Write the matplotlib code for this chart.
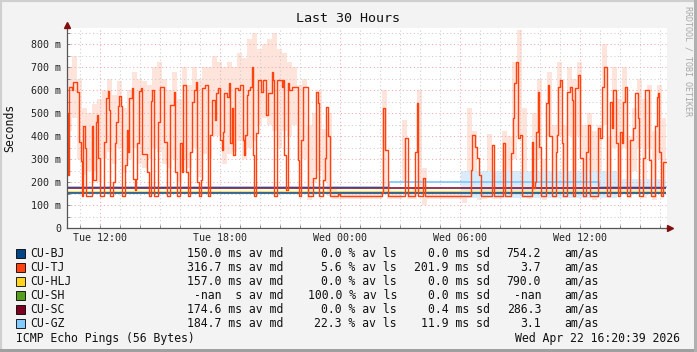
import matplotlib

matplotlib.use("Agg")
import matplotlib.pyplot as plt
import numpy as np
from matplotlib.patches import Rectangle
from matplotlib.transforms import offset_copy

# time axis: hours since graph start (Tue 10:21), 30 h wide
tick_hours = [1.65, 7.65, 13.65, 19.65, 25.65]
tick_labels = ["Tue 12:00", "Tue 18:00", "Wed 00:00", "Wed 06:00", "Wed 12:00"]
y_ticks = [0, 100, 200, 300, 400, 500, 600, 700, 800]
y_labels = ["0", "100 m", "200 m", "300 m", "400 m", "500 m", "600 m", "700 m", "800 m"]

# CU-TJ median (ms), step changes
tj_hours = [
    0.00, 0.03, 0.10, 0.23, 0.30, 0.48, 0.60, 0.68, 0.75, 0.82, 0.88, 0.95,
    1.23, 1.32, 1.43, 1.50, 1.55, 1.65, 1.87, 1.93, 2.05, 2.10, 2.15, 2.30,
    2.38, 2.45, 2.55, 2.60, 2.70, 2.75, 2.90, 2.98, 3.05, 3.12, 3.23, 3.32,
    3.38, 3.45, 3.50, 3.60, 3.70, 3.75, 4.00, 4.08, 4.20, 4.27, 4.35, 4.55,
    4.65, 4.85, 4.98, 5.15, 5.35, 5.42, 5.50, 5.65, 5.73, 5.80, 5.95, 6.05,
    6.15, 6.25, 6.35, 6.45, 6.52, 6.58, 6.70, 6.75, 6.90, 7.05, 7.15, 7.25,
    7.40, 7.45, 7.57, 7.65, 7.73, 7.82, 7.87, 7.98, 8.10, 8.15, 8.23, 8.28,
    8.40, 8.55, 8.65, 8.80, 8.87, 8.90, 8.98, 9.07, 9.15, 9.23, 9.32, 9.37,
    9.43, 9.53, 9.70, 9.82, 9.93, 10.07, 10.23, 10.32, 10.37, 10.48, 10.75, 10.82,
    10.87, 10.93, 11.03, 11.10, 11.25, 11.53, 11.62, 11.70, 11.82, 12.03, 12.32, 12.45,
    12.53, 12.62, 12.82, 12.90, 12.97, 13.05, 13.15, 13.55, 13.65, 15.77, 15.80, 15.90,
    16.03, 16.90, 17.03, 17.40, 17.48, 17.53, 17.82, 17.90, 20.20, 20.27, 20.40, 20.50,
    20.60, 20.68, 21.25, 21.35, 21.82, 21.88, 22.18, 22.30, 22.35, 22.45, 22.55, 22.65,
    22.73, 23.23, 23.32, 23.40, 23.45, 23.53, 23.62, 23.70, 23.93, 24.07, 24.12, 24.23,
    24.43, 24.48, 24.53, 24.65, 24.73, 24.82, 24.98, 25.15, 25.23, 25.32, 25.40, 25.57,
    25.65, 25.82, 25.97, 26.05, 26.13, 26.57, 26.65, 26.75, 26.85, 26.98, 27.15, 27.23,
    27.32, 27.45, 27.53, 27.65, 27.73, 27.82, 27.90, 27.98, 28.15, 28.32, 28.40, 28.53,
    28.62, 28.82, 28.90, 29.12, 29.20, 29.40, 29.48, 29.57, 29.62, 29.68, 29.82, 29.93,
]
tj_ms = [
    500, 230, 614, 600, 636, 590, 375, 290, 141, 445, 350, 141,
    445, 210, 460, 490, 305, 141, 375, 565, 595, 515, 141, 200,
    370, 460, 530, 575, 530, 141, 275, 425, 330, 565, 610, 215,
    165, 215, 370, 595, 610, 320, 245, 141, 551, 600, 141, 460,
    614, 375, 141, 535, 593, 245, 141, 368, 245, 622, 245, 141,
    332, 549, 600, 636, 202, 141, 209, 607, 622, 141, 404, 556,
    470, 586, 607, 383, 339, 419, 586, 571, 629, 368, 520, 317,
    607, 600, 622, 383, 317, 404, 578, 600, 614, 701, 317, 141,
    412, 643, 593, 643, 491, 586, 680, 643, 141, 643, 614, 643,
    317, 165, 629, 600, 614, 296, 141, 383, 614, 141, 216, 593,
    542, 141, 209, 303, 527, 400, 141, 146, 141, 158, 520, 339,
    141, 390, 141, 332, 542, 141, 216, 141, 252, 404, 353, 303,
    231, 141, 361, 141, 368, 141, 325, 477, 629, 723, 390, 404,
    141, 375, 173, 202, 419, 593, 353, 141, 542, 622, 400, 141,
    332, 404, 614, 643, 368, 141, 593, 614, 556, 141, 607, 665,
    303, 141, 332, 448, 141, 434, 390, 614, 701, 141, 549, 434,
    600, 368, 141, 419, 368, 549, 614, 141, 383, 434, 586, 477,
    141, 303, 600, 296, 141, 445, 571, 586, 330, 141, 288, 288,
]

# CU-TJ smoke envelope per quarter hour (ms)
tj_smoke_hi = [
    700, 750, 650, 520, 500, 540, 560, 600,
    650, 580, 640, 520, 600, 680, 650, 640,
    620, 700, 720, 650, 600, 680, 560, 700,
    620, 700, 650, 700, 700, 750, 720, 700,
    720, 700, 760, 740, 820, 850, 780, 800,
    820, 850, 780, 760, 720, 700, 620, 650,
    450, 500, 600, 430, 500, 170, 160, 160,
    160, 160, 160, 160, 160, 160, 160, 600,
    160, 160, 160, 470, 160, 180, 600, 260,
    160, 160, 160, 160, 160, 160, 160, 200,
    520, 420, 200, 250, 410, 160, 160, 420,
    400, 720, 860, 520, 200, 500, 650, 300,
    680, 450, 720, 450, 700, 650, 720, 450,
    500, 420, 450, 800, 400, 700, 560, 700,
    400, 520, 650, 560, 620, 420, 620, 480,
]
tj_smoke_lo = [
    420, 480, 300, 230, 250, 250, 200, 300,
    330, 280, 350, 240, 300, 350, 280, 260,
    300, 350, 330, 280, 260, 300, 200, 300,
    260, 350, 220, 320, 300, 400, 400, 280,
    320, 330, 380, 300, 350, 380, 450, 480,
    450, 420, 350, 420, 400, 450, 300, 300,
    120, 200, 250, 200, 140, 125, 125, 125,
    125, 125, 125, 125, 125, 125, 125, 150,
    125, 125, 125, 200, 125, 125, 150, 100,
    125, 125, 125, 125, 125, 125, 125, 110,
    150, 200, 120, 125, 150, 125, 125, 150,
    150, 300, 400, 150, 125, 200, 300, 120,
    400, 150, 400, 130, 400, 150, 400, 130,
    250, 120, 200, 450, 130, 350, 200, 350,
    130, 250, 350, 130, 350, 120, 300, 200,
]

# CU-GZ median and smoke
gz_hours = [0.0, 16.1, 26.6, 29.93]
gz_ms = [177, 199, 177, 177]
gz_smoke_hours = [0.0, 13.9, 19.7, 27.5, 29.93]
gz_smoke_lo = [135, np.nan, 130, 150, 150]
gz_smoke_hi = [215, np.nan, 250, 215, 215]

# flat targets
bj_ms = 151
hlj_ms = 156
sc_ms = 174

names = ["CU-BJ", "CU-TJ", "CU-HLJ", "CU-SH", "CU-SC", "CU-GZ"]
colors = ["#004586", "#ff420e", "#ffd320", "#579d1c", "#7e0021", "#83caff"]
med_vals = ["150.0", "316.7", "157.0", "-nan", "174.6", "184.7"]
med_units = ["ms", "ms", "ms", "s", "ms", "ms"]
loss_vals = ["0.0", "5.6", "0.0", "100.0", "0.0", "22.3"]
sd_vals = ["0.0", "201.9", "0.0", "0.0", "0.4", "11.9"]
amas_vals = ["754.2", "3.7", "790.0", "-nan", "286.3", "3.1"]

W, H = 697, 352
MONO = "DejaVu Sans Mono"
plt.rcParams["font.family"] = MONO


def fx(x):
    return x / W


def fy(y):
    return 1 - y / H


fig = plt.figure(figsize=(W / 100, H / 100), dpi=100)
fig.patch.set_facecolor("#f3f3f3")

# 3d-ish frame
fig.add_artist(Rectangle((0, 0), 1, 1, transform=fig.transFigure, fill=False,
                         edgecolor="#cfcfcf", lw=3))
fig.add_artist(Rectangle((0, 0), 1, fy(349), transform=fig.transFigure,
                         facecolor="#a0a0a0", edgecolor="none"))
fig.add_artist(Rectangle((fx(694), 0), fx(3), 1, transform=fig.transFigure,
                         facecolor="#b0b0b0", edgecolor="none"))

ax = fig.add_axes([fx(67), fy(228), 600 / W, (228 - 27.5) / H])
ax.set_facecolor("white")
ax.set_xlim(0, 30)
ax.set_ylim(0, 872)

smoke_hours = np.arange(len(tj_smoke_hi)) * 0.25
sh = np.append(smoke_hours, 29.93)
ax.fill_between(sh, np.append(tj_smoke_lo, tj_smoke_lo[-1]), np.append(tj_smoke_hi, tj_smoke_hi[-1]),
                step="post", color="#ffe4dc", lw=0, zorder=1)
ax.fill_between(gz_smoke_hours, gz_smoke_lo, gz_smoke_hi, step="post",
                color="#d9ecfb", lw=0, zorder=1.2)

ax.step(gz_hours, gz_ms, where="post", color=colors[5], lw=1.3, zorder=3)
ax.hlines(sc_ms, 0, 29.93, color=colors[4], lw=1.1, zorder=3)
ax.hlines(hlj_ms, 0, 29.93, color=colors[2], lw=1.1, zorder=3)
ax.hlines(bj_ms, 0, 29.93, color=colors[0], lw=1.1, zorder=3)
ax.step(tj_hours, tj_ms, where="post", color=colors[1], lw=1.0, zorder=4)

# grid
ax.set_xticks(tick_hours)
ax.set_xticklabels(tick_labels)
ax.set_xticks(np.arange(0.65, 30, 1.0), minor=True)
ax.set_yticks(y_ticks)
ax.set_yticklabels(y_labels)
ax.set_yticks(np.arange(50, 872, 100), minor=True)
ax.set_axisbelow(False)
ax.grid(which="minor", color="#cccccc", lw=0.75, linestyle=(0, (1, 2.5)), zorder=2)
ax.grid(which="major", color="#eeaaaa", lw=0.75, linestyle=(0, (1, 2.5)), zorder=2)
ax.tick_params(which="both", length=2, width=0.7, color="#888888", direction="in")
ax.tick_params(axis="y", labelsize=7.2, pad=4, labelcolor="#222222")
ax.tick_params(axis="x", labelsize=7.2, pad=3.5, labelcolor="#222222")
for lab in ax.get_xticklabels() + ax.get_yticklabels():
    lab.set_family(MONO)

for side in ["top", "right"]:
    ax.spines[side].set_visible(False)
for side in ["left", "bottom"]:
    ax.spines[side].set_color("#555555")
    ax.spines[side].set_linewidth(0.9)
    ax.spines[side].set_zorder(5)

up = offset_copy(ax.transAxes, fig=fig, x=0, y=3, units="dots")
ax.plot([0], [1], marker="^", ms=5, color="#7f1010", transform=up, clip_on=False, zorder=6)
right = offset_copy(ax.transAxes, fig=fig, x=3, y=0, units="dots")
ax.plot([1], [0], marker=">", ms=5, color="#7f1010", transform=right, clip_on=False, zorder=6)

fig.text(fx(348), fy(19), "Last 30 Hours", ha="center", va="center", fontsize=9.6, color="#111111")
fig.text(fx(10), fy(128), "Seconds", ha="center", va="center", rotation=90, fontsize=8.3, color="#111111")
fig.text(fx(688), fy(61), "RRDTOOL / TOBI OETIKER", ha="center", va="center", rotation=270,
         fontsize=6, color="#a8a8a8")

# legend
for i, name in enumerate(names):
    y = 253.5 + 14 * i
    fig.add_artist(Rectangle((fx(16), fy(y + 4.5)), 9 / W, 9 / H, transform=fig.transFigure,
                             facecolor=colors[i], edgecolor="black", lw=0.6))
    kw = dict(va="center", fontsize=8.3, color="#111111")
    fig.text(fx(30), fy(y), name, ha="left", **kw)
    fig.text(fx(283), fy(y), f"{med_vals[i]} {med_units[i]:>2} av md", ha="right", **kw)
    fig.text(fx(397), fy(y), f"{loss_vals[i]} % av ls", ha="right", **kw)
    fig.text(fx(490), fy(y), f"{sd_vals[i]} ms sd", ha="right", **kw)
    fig.text(fx(541), fy(y), amas_vals[i], ha="right", **kw)
    fig.text(fx(564), fy(y), "am/as", ha="left", **kw)

fig.text(fx(16), fy(338.5), "ICMP Echo Pings (56 Bytes)", ha="left", va="center", fontsize=8.3, color="#111111")
fig.text(fx(680), fy(338.5), "Wed Apr 22 16:20:39 2026", ha="right", va="center", fontsize=8.3, color="#111111")

fig.savefig("out.png", dpi=100, facecolor=fig.get_facecolor())
